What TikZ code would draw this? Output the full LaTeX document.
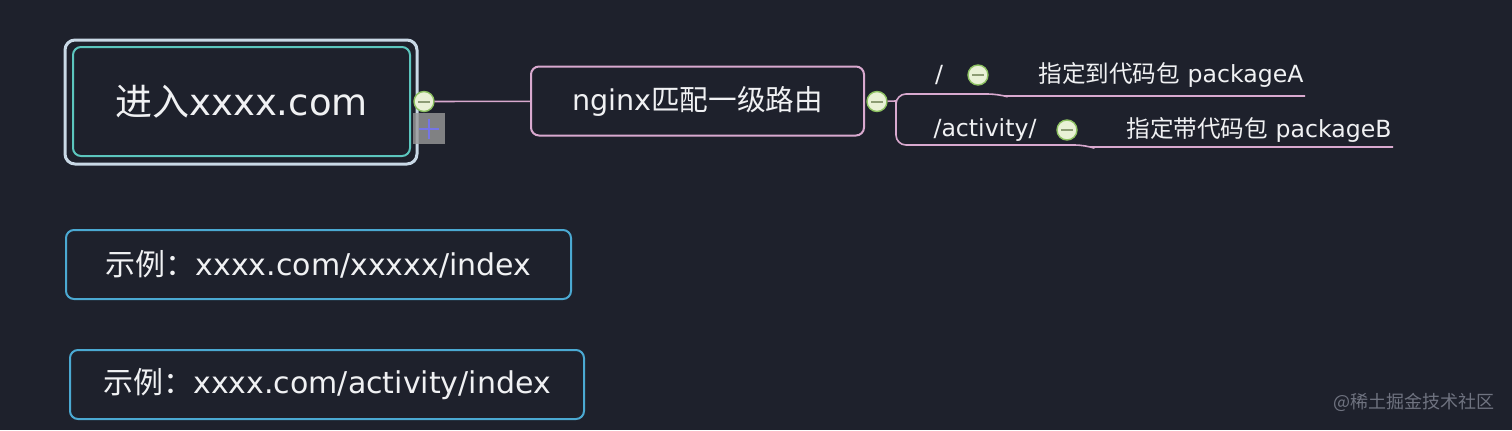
\documentclass[tikz,border=0pt]{standalone}
\usepackage{fontspec}
\setmainfont{DejaVu Sans}
\newfontfamily\zh{Noto Sans CJK SC}
\definecolor{bgdark}{HTML}{1E212C}
\definecolor{txtwhite}{HTML}{F0F1F3}
\definecolor{rootteal}{HTML}{5CC6BE}
\definecolor{rootframe}{HTML}{C9D9E6}
\definecolor{pinkline}{HTML}{D9A9CF}
\definecolor{noteblue}{HTML}{4BA9D2}
\definecolor{foldgreen}{HTML}{8DC162}
\definecolor{foldfill}{HTML}{E9F1D6}
\definecolor{foldbar}{HTML}{8C9C74}
\definecolor{markgray}{HTML}{6F7380}
\tikzset{ %one unit = one pixel of the picture
  {topic/.style} ={draw, rounded corners=4pt, line width=1pt,
                   text=txtwhite, inner sep=0, align=center},
  {root topic/.style} ={topic, draw=rootteal, minimum width=168.5pt,
                   minimum height=54.5pt, font=\fontsize{18.5}{21}\selectfont},
  {root frame/.style} ={draw=rootframe, line width=1.5pt, rounded corners=5pt},
  {main topic/.style} ={topic, draw=pinkline, minimum width=166.5pt,
                   minimum height=34.5pt, font=\fontsize{14.3}{17}\selectfont},
  {note topic/.style} ={topic, draw=noteblue, minimum height=34.5pt,
                   font=\fontsize{15}{18}\selectfont},
  {sub topic/.style} ={text=txtwhite, inner sep=0,
                   font=\fontsize{11.8}{14}\selectfont},
  {fold/.style} ={circle, draw=foldgreen, fill=foldfill, line width=0.7pt,
                   minimum size=10pt, inner sep=0,
                   path picture={\draw[foldbar, line width=1pt]
                     ([xshift=-2.8pt]path picture bounding box.center) --
                     ([xshift=2.8pt]path picture bounding box.center);}},
  {expand box/.style} ={fill=gray!80, opacity=.8, minimum width=16pt,
                   minimum height=15.5pt, inner sep=0,
                   path picture={\draw[blue!55!white, line width=1pt]
                     ([xshift=-5pt]path picture bounding box.center) --
                     ([xshift=5pt]path picture bounding box.center)
                     ([yshift=-5pt]path picture bounding box.center) --
                     ([yshift=5pt]path picture bounding box.center);}},
  {branch/.style} ={draw=pinkline, line width=0.8pt},
  {watermark/.style} ={text=markgray, inner sep=0,
                   font=\fontsize{9}{11}\selectfont},
}

\begin{document}
\begin{tikzpicture}[x=0.5pt,y=-0.5pt]
\fill[bgdark] (0,0) rectangle (1512,430);
\useasboundingbox (0,0) rectangle (1512,430);

\node[root topic] (root) at (241.5,101.5) {{\zh 进入}xxxx.com};
\draw[root frame] ([xshift=-3.5pt,yshift=3pt]root.north west)
   rectangle ([xshift=3pt,yshift=-3.5pt]root.south east);
\node[main topic] (nginx) at (697.5,101) {nginx{\zh 匹配一级路由}};

\node[note topic, minimum width=252.5pt] (demoA) at (318.5,264.5)
   {{\zh 示例：}xxxx.com/xxxxx/index};
\node[note topic, minimum width=257pt] (demoB) at (327,384.5)
   {{\zh 示例：}xxxx.com/activity/index};

% sub topics
\node[sub topic] (slash) at (939,75) {/};
\node[sub topic] (pkgA) at (1171,75) {{\zh 指定到代码包} packageA};
\node[sub topic] (act) at (985,130) {/activity/};
\node[sub topic] (pkgB) at (1259,130) {{\zh 指定带代码包} packageB};

\coordinate (fork) at (896,101);
\coordinate (upA) at (998,94);
\coordinate (upB) at (1005,96);
\coordinate (upC) at (1305,96);
\coordinate (lowA) at (1085,145);
\coordinate (lowB) at (1091,147);
\coordinate (lowC) at (1393,147);

\node[fold] (foldRoot) at (424,101.5) {};
\node[fold] (foldNginx) at (877,101.5) {};
\node[fold] (foldA) at (978,75) {};
\node[fold] (foldB) at (1067,130) {};

\path[branch] (foldRoot) edge (nginx)
              (foldNginx) edge (fork);
\draw[branch] (fork) [rounded corners=5pt] |- (upA)
              [sharp corners] -- (upB) -- (upC);
\draw[branch] (fork) [rounded corners=5pt] |- (lowA)
              [sharp corners] -- (lowB) -- (lowC);

\node[expand box] (expand) at (429,128.5) {};

\node[watermark] (credit) at (1414,402) {{\zh @稀土掘金技术社区}};
\end{tikzpicture}
\end{document}
